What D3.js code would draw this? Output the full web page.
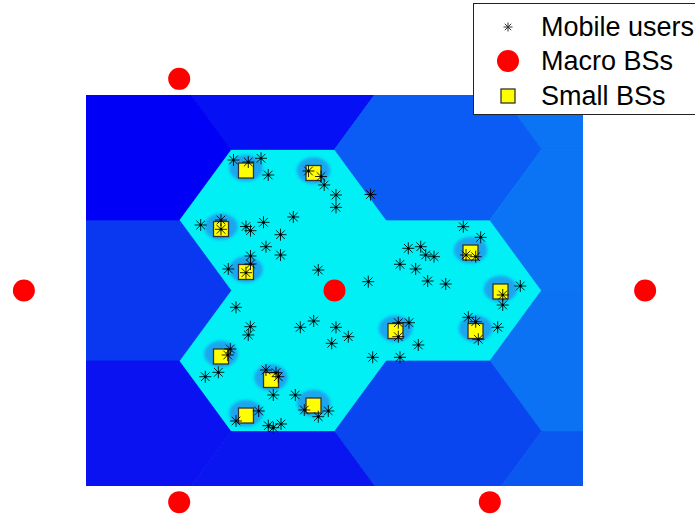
<!DOCTYPE html>
<html><head><meta charset="utf-8">
<script src="https://cdn.jsdelivr.net/npm/d3@7"></script>
<style>body{margin:0;background:#fff;}svg{display:block;}</style>
</head><body>
<svg id="chart" width="695" height="520"></svg>
<script>
// ---------- data (metres) ----------
const xDomain = [-400, 400];
const yDomain = [-400, 400];
const hexRadius = 500 / 3;                 // sector cell radius (ISD 500 m)

// macro base-station sites
const macroX = [0, 500, -500, 250, -250, 250, -250];
const macroY = [0, 0, 0, 433, 433, -433, -433];

// visible sector cells: site index, direction (0 upper-left, 1 right, 2 lower-left), level colour
const sectorSite  = [0, 0, 0, 2, 4, 4, 3, 3, 1, 1, 5, 5, 6, 6];
const sectorDir   = [0, 1, 2, 1, 1, 2, 1, 2, 0, 2, 0, 1, 0, 1];
const sectorColor = ["#00f0f6", "#00f0f6", "#00f0f6", "#0a38f0", "#0510f5", "#0000f6",
                     "#0a74f5", "#0a5cf5", "#0a74f5", "#0a72f3", "#0a46f0", "#0a58f0",
                     "#0a12f2", "#0a16f0"];

// small base stations
const smallX = [-142.5, -33.8, -182.7, -142.5, 218.9, 267.2, 98.2, 227.0, -182.7, -102.2, -142.5, -33.8];
const smallY = [245.5, 240.4, 125.8, 37.9, 77.7, -2.0, -82.9, -82.9, -135.0, -183.1, -255.8, -235.3];

// mobile users
const userX = [-162.6, -138.8, -118.3, -106.7, -41.9, -21.7, -16.6, 2.4, 2.4, 57.9,
  -215.4, -182.7, -182.7, -142.5, -135.2, -114.3, -66.3, -86.9, -110.3, -86.9,
  -135.2, -135.2, -171.0, -142.5, -26.1, 54.4,
  207.3, 235.3, 118.8, 138.8, 146.8, 160.2, 105.4, 130.7, 150.0, 179.0,
  211.7, 227.3, 299.1, 270.8, 270.8, 102.7, 119.9, 102.7, 134.9, 61.5,
  105.4, 215.4, 227.3, 262.7, 231.5, 2.4, 22.2, -4.5,
  -158.6, -135.5, -138.8, -55.1, -33.5, -167.7, -171.9, -208.0, -187.0, -110.3,
  -94.2, -90.5, -98.5, -63.1, -122.0, -158.6, -106.6, -98.5, -86.1, -48.6,
  -26.1, -10.0];
const userY = [267.0, 262.9, 270.5, 236.3, 244.5, 233.2, 215.9, 195.4, 170.2, 196.4,
  134.0, 144.2, 125.2, 130.9, 122.4, 139.5, 150.4, 114.2, 89.6, 72.6,
  70.6, 54.2, 44.0, 36.4, 41.9, 18.0,
  130.5, 108.8, 86.3, 89.6, 72.6, 69.2, 53.6, 44.0, 19.4, 13.3,
  72.6, 69.2, 9.2, -9.2, -29.7, -65.9, -65.9, -94.5, -111.5, -136.7,
  -136.7, -54.8, -63.8, -75.3, -99.8, -75.3, -94.5, -108.0,
  -34.4, -74.1, -91.0, -75.3, -62.4, -119.7, -132.0, -176.4, -167.4, -162.7,
  -168.2, -176.4, -213.8, -213.8, -246.5, -267.0, -276.6, -280.7, -273.1, -244.5,
  -258.2, -246.5];

const legendLabels = ["Mobile users", "Macro BSs", "Small BSs"];

// ---------- drawing ----------
const svg = d3.select("#chart");
const x = d3.scaleLinear().domain(xDomain).range([86, 583]);
const y = d3.scaleLinear().domain(yDomain).range([486, 95]);

const defs = svg.append("defs");
defs.append("clipPath").attr("id", "plotClip")
  .append("rect").attr("x", x(xDomain[0])).attr("y", y(yDomain[1]))
  .attr("width", x(xDomain[1]) - x(xDomain[0])).attr("height", y(yDomain[0]) - y(yDomain[1]));
defs.append("filter").attr("id", "blur").attr("x", "-50%").attr("y", "-50%").attr("width", "200%").attr("height", "200%")
  .append("feGaussianBlur").attr("stdDeviation", 1.8);

const dirOffset = [
  [-hexRadius / 2, hexRadius * Math.sqrt(3) / 2],
  [hexRadius, 0],
  [-hexRadius / 2, -hexRadius * Math.sqrt(3) / 2]
];

const sectors = sectorSite.map((s, i) => ({
  cx: macroX[s] + dirOffset[sectorDir[i]][0],
  cy: macroY[s] + dirOffset[sectorDir[i]][1],
  color: sectorColor[i]
}));

const plot = svg.append("g").attr("clip-path", "url(#plotClip)");
plot.selectAll("path.cell").data(sectors).join("path")
  .attr("class", "cell")
  .attr("d", d => {
    const pts = d3.range(6).map(k => {
      const a = k * Math.PI / 3;
      return [x(d.cx + hexRadius * Math.cos(a)), y(d.cy + hexRadius * Math.sin(a))];
    });
    return "M" + pts.join("L") + "Z";
  })
  .attr("fill", d => d.color)
  .attr("stroke", d => d.color)
  .attr("stroke-width", 0.8);

// small-cell coverage halos
const haloR = 27;
plot.append("g").attr("filter", "url(#blur)")
  .selectAll("ellipse").data(smallX.map((v, i) => [v, smallY[i]])).join("ellipse")
  .attr("cx", d => x(d[0])).attr("cy", d => y(d[1] + 5))
  .attr("rx", x(haloR) - x(0)).attr("ry", y(0) - y(haloR))
  .attr("fill", "#1ea6ee");

// small BSs
const sq = 15;
svg.append("g").selectAll("rect").data(smallX.map((v, i) => [v, smallY[i]])).join("rect")
  .attr("x", d => x(d[0]) - sq / 2).attr("y", d => y(d[1]) - sq / 2)
  .attr("width", sq).attr("height", sq)
  .attr("fill", "#ffff00").attr("stroke", "#333").attr("stroke-width", 1.3);

// asterisk marker
function asterisk(r) {
  const d = r * 0.72;
  return `M${-r},0L${r},0M0,${-r}L0,${r}M${-d},${-d}L${d},${d}M${-d},${d}L${d},${-d}`;
}
svg.append("g").selectAll("path").data(userX.map((v, i) => [v, userY[i]])).join("path")
  .attr("transform", d => `translate(${x(d[0])},${y(d[1])})`)
  .attr("d", asterisk(6))
  .attr("fill", "none").attr("stroke", "#000").attr("stroke-width", 1).attr("stroke-opacity", 0.85);
svg.append("g").selectAll("circle").data(userX.map((v, i) => [v, userY[i]])).join("circle")
  .attr("cx", d => x(d[0])).attr("cy", d => y(d[1])).attr("r", 1.3).attr("fill", "#000");

// macro BSs
svg.append("g").selectAll("circle").data(macroX.map((v, i) => [v, macroY[i]])).join("circle")
  .attr("cx", d => x(d[0])).attr("cy", d => y(d[1])).attr("r", 11)
  .attr("fill", "#ff0000");

// legend
const lg = svg.append("g");
lg.append("rect").attr("x", 473.5).attr("y", 3.5).attr("width", 240).attr("height", 111)
  .attr("fill", "#fff").attr("stroke", "#222").attr("stroke-width", 1);
const rowY = [27, 61, 96];
lg.append("path").attr("transform", `translate(508,${rowY[0]})`).attr("d", asterisk(4.5))
  .attr("fill", "none").attr("stroke", "#333").attr("stroke-width", 1);
lg.append("circle").attr("cx", 508).attr("cy", rowY[1]).attr("r", 11).attr("fill", "#ff0000");
lg.append("rect").attr("x", 508 - 7).attr("y", rowY[2] - 7).attr("width", 14).attr("height", 14)
  .attr("fill", "#ffff00").attr("stroke", "#333").attr("stroke-width", 1.3);
lg.selectAll("text").data(legendLabels).join("text")
  .attr("x", 541).attr("y", (d, i) => rowY[i] + 9)
  .attr("font-family", "'Liberation Sans', Arial, sans-serif")
  .attr("font-size", 27).attr("fill", "#000")
  .text(d => d);
</script>
</body></html>
